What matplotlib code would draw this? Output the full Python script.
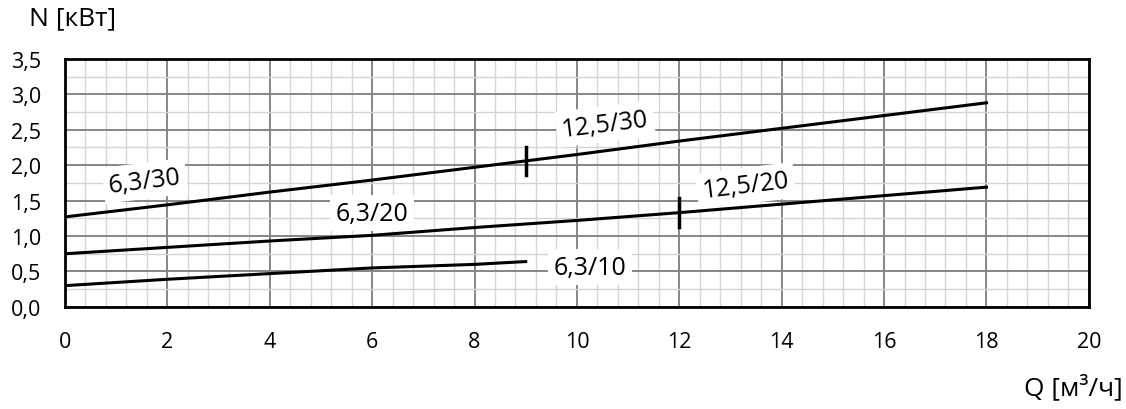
import numpy as np
import matplotlib.pyplot as plt
from matplotlib.ticker import MultipleLocator, FuncFormatter

plt.rcParams['font.family'] = ['Open Sans', 'DejaVu Sans']

# curve data
q = [0, 2, 4, 6, 8, 10, 12, 14, 16, 18]
n_30 = [1.27, 1.44, 1.62, 1.79, 1.97, 2.15, 2.34, 2.52, 2.70, 2.88]
n_20 = [0.75, 0.84, 0.93, 1.01, 1.12, 1.22, 1.33, 1.45, 1.57, 1.69]
q_10 = [0, 2, 4, 6, 8, 9]
n_10 = [0.30, 0.39, 0.47, 0.55, 0.60, 0.64]

# switch points between pump variants
switch_q = [9, 12]
switch_n = [2.06, 1.33]

labels = ['6,3/30', '12,5/30', '6,3/20', '12,5/20', '6,3/10']
label_q = [1.56, 10.55, 6.0, 13.3, 10.25]
label_n = [1.78, 2.58, 1.32, 1.71, 0.56]
label_rot = [7, 7, 0, 7, 0]

fig = plt.figure(figsize=(11.26, 4.10), dpi=100)
ax = fig.add_axes([0.0577, 0.249, 0.9093, 0.605])

# curves drawn above the label boxes
ax.plot(q, n_30, color='black', lw=2.2, zorder=5)
ax.plot(q, n_20, color='black', lw=2.2, zorder=5)
ax.plot(q_10, n_10, color='black', lw=2.2, zorder=5)
for sq, sn in zip(switch_q, switch_n):
    ax.plot([sq, sq], [sn - 0.2, sn + 0.2], color='black', lw=2.5, zorder=5)

for t, x, y, r in zip(labels, label_q, label_n, label_rot):
    ax.text(x, y, t, fontsize=18, rotation=r, ha='center', va='center', zorder=4,
            bbox=dict(facecolor='white', edgecolor='none', pad=4))

ax.set_xlim(0, 20)
ax.set_ylim(0, 3.5)
ax.xaxis.set_major_locator(MultipleLocator(2))
ax.xaxis.set_minor_locator(MultipleLocator(0.4))
ax.yaxis.set_major_locator(MultipleLocator(0.5))
ax.yaxis.set_minor_locator(MultipleLocator(0.25))
ax.yaxis.set_major_formatter(FuncFormatter(lambda v, p: f'{v:.1f}'.replace('.', ',')))
ax.grid(which='major', color='#868686', lw=1.4, zorder=1)
ax.grid(which='minor', color='#d4d4d4', lw=1.0, zorder=0)
ax.set_axisbelow(True)
ax.tick_params(which='both', length=0, labelsize=15.5)
ax.tick_params(axis='x', pad=17)
ax.tick_params(axis='y', pad=17)
for s in ax.spines.values():
    s.set_linewidth(2)
    s.set_color('black')

fig.text(0.026, 0.955, 'N [кВт]', fontsize=19, va='center', ha='left')
fig.text(0.997, 0.053, 'Q [м³/ч]', fontsize=19, va='center', ha='right')

fig.savefig('out.png', dpi=100)
